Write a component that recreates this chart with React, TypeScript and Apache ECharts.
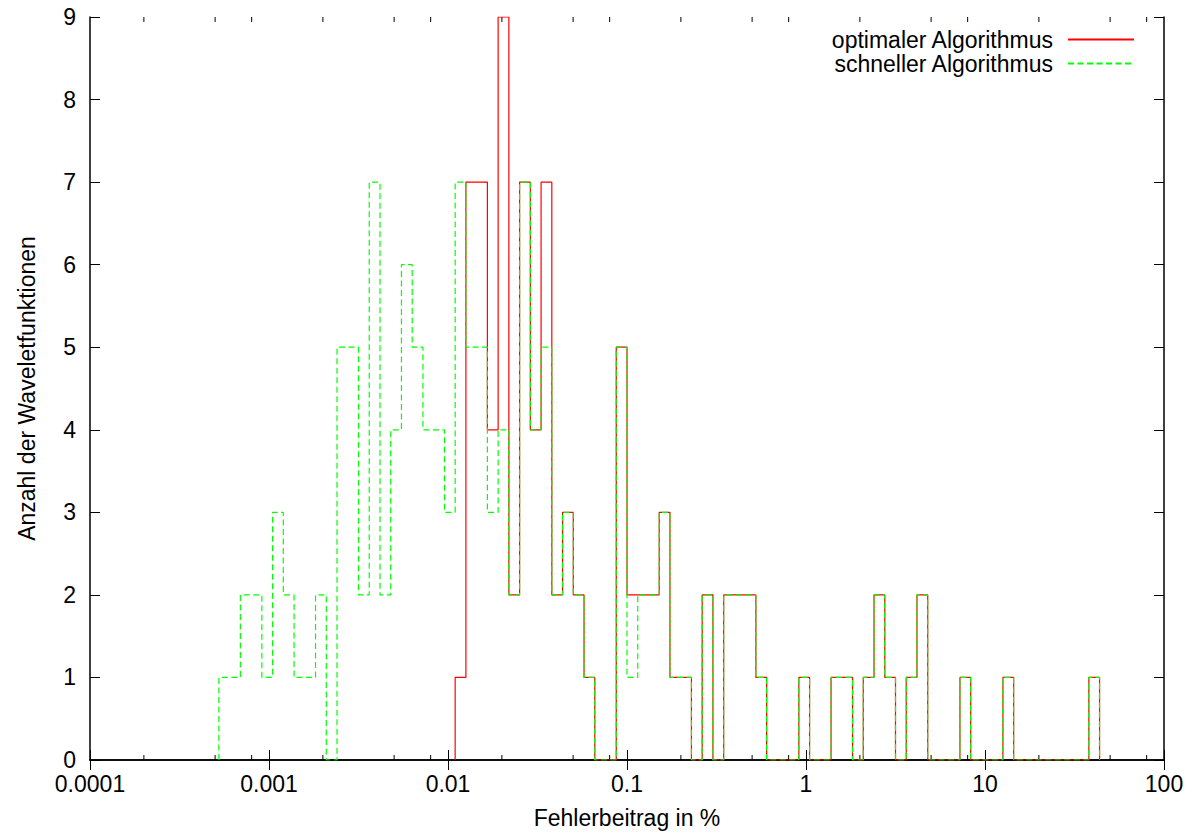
import React, { useEffect, useRef } from "react";
import * as echarts from "echarts";

// Histogram bins: equal width in log10(Fehlerbeitrag), first bin starts at 10^-3.28
const FIRST_BIN_LOG10 = -3.28;
const BIN_WIDTH_LOG10 = 0.06;

// counts per bin (82 bins, from 10^-3.28 up to 10^1.64)
const optimalCounts = [
  0, 0, 0, 0, 0, 0, 0, 0, 0, 0, 0, 0, 0, 0, 0, 0, 0, 0, 0, 0, 0, 0,
  1, 7, 7, 4, 9, 2, 7, 4, 7, 2, 3, 2, 1, 0, 0, 5,
  2, 2, 2, 3, 1, 1, 0, 2, 0, 2, 2, 2, 1, 0, 0, 0,
  1, 0, 0, 1, 1, 0, 1, 2, 1, 0, 1, 2, 0, 0, 0, 1,
  0, 0, 0, 1, 0, 0, 0, 0, 0, 0, 0, 1,
];
const fastCounts = [
  1, 1, 2, 2, 1, 3, 2, 1, 1, 2, 0, 5, 5, 2, 7, 2, 4, 6, 5, 4, 4, 3,
  7, 5, 5, 3, 4, 2, 7, 4, 5, 2, 3, 2, 1, 0, 0, 5,
  1, 2, 2, 3, 1, 1, 0, 2, 0, 2, 2, 2, 1, 0, 0, 0,
  1, 0, 0, 1, 1, 0, 1, 2, 1, 0, 1, 2, 0, 0, 0, 1,
  0, 0, 0, 1, 0, 0, 0, 0, 0, 0, 0, 1,
];

const seriesNames = ["optimaler Algorithmus", "schneller Algorithmus"];
const xTickValues = [0.0001, 0.001, 0.01, 0.1, 1, 10, 100];
const minorTicks = [
  0.0002, 0.0005, 0.0008, 0.002, 0.005, 0.008, 0.02, 0.05, 0.08,
  0.2, 0.5, 0.8, 2, 5, 8, 20, 50, 80,
];
const yMax = 9;

const FONT = "Liberation Sans, Arial, Helvetica, sans-serif";

function edge(i: number): number {
  return Math.pow(10, FIRST_BIN_LOG10 + i * BIN_WIDTH_LOG10);
}

function stepData(counts: number[]): number[][] {
  let first = 0;
  while (first < counts.length && counts[first] === 0) first++;
  let last = counts.length - 1;
  while (last >= 0 && counts[last] === 0) last--;
  const pts: number[][] = [[edge(first), 0]];
  for (let i = first; i <= last; i++) {
    pts.push([edge(i), counts[i]]);
    pts.push([edge(i + 1), counts[i]]);
  }
  pts.push([edge(last + 1), 0]);
  return pts;
}

function fmt(v: number): string {
  return String(parseFloat(Number(v).toPrecision(6)));
}

export default function App() {
  const ref = useRef<HTMLDivElement>(null);
  useEffect(() => {
    if (!ref.current) return;
    const chart = echarts.init(ref.current, null, { renderer: "svg" });
    const axisLine = { show: true, lineStyle: { color: "#000", width: 1.5 } };
    const tick = { show: true, inside: true, length: 10, lineStyle: { color: "#000", width: 1 } };
    chart.setOption({
      animation: false,
      backgroundColor: "#fff",
      textStyle: { fontFamily: FONT },
      grid: { left: 90, right: 33, top: 17, bottom: 76, containLabel: false, outerBoundsMode: "none" },
      legend: {
        data: seriesNames,
        orient: "vertical",
        align: "right",
        right: 62,
        top: 28,
        padding: 0,
        itemWidth: 66,
        itemHeight: 10,
        itemGap: 1,
        itemStyle: { opacity: 0 },
        textStyle: { fontSize: 23, color: "#000", fontFamily: FONT, lineHeight: 22, padding: [0, 10, 0, 0] },
      },
      xAxis: [
        {
          type: "log",
          logBase: 10,
          min: xTickValues[0],
          max: xTickValues[xTickValues.length - 1],
          splitNumber: 6,
          position: "bottom",
          axisLine,
          axisTick: tick,
          splitLine: { show: false },
          axisLabel: { fontSize: 23, color: "#000", fontFamily: FONT, margin: 12, formatter: (v: number) => fmt(v), showMinLabel: true, showMaxLabel: true },
          name: "Fehlerbeitrag in %",
          nameLocation: "middle",
          nameGap: 46,
          nameTextStyle: { fontSize: 23, color: "#000", fontFamily: FONT },
        },
        {
          type: "log",
          logBase: 10,
          min: xTickValues[0],
          max: xTickValues[xTickValues.length - 1],
          splitNumber: 6,
          position: "top",
          axisLine,
          axisTick: tick,
          splitLine: { show: false },
          axisLabel: { show: false },
        },
      ],
      yAxis: [
        {
          type: "value",
          min: 0,
          max: yMax,
          interval: 1,
          position: "left",
          axisLine,
          axisTick: tick,
          splitLine: { show: false },
          axisLabel: { fontSize: 23, color: "#000", fontFamily: FONT, margin: 14 },
          name: "Anzahl der Waveletfunktionen",
          nameLocation: "middle",
          nameGap: 52,
          nameTextStyle: { fontSize: 23, color: "#000", fontFamily: FONT },
        },
        {
          type: "value",
          min: 0,
          max: yMax,
          interval: 1,
          position: "right",
          axisLine,
          axisTick: tick,
          splitLine: { show: false },
          axisLabel: { show: false },
        },
      ],
      series: [
        {
          name: seriesNames[0],
          type: "line",
          xAxisIndex: 0,
          yAxisIndex: 0,
          data: stepData(optimalCounts),
          symbol: "none",
          showSymbol: false,
          color: "#ff0000",
          lineStyle: { color: "#ff0000", width: 1.2 },
        },
        {
          name: seriesNames[1],
          type: "line",
          xAxisIndex: 0,
          yAxisIndex: 0,
          data: stepData(fastCounts),
          symbol: "none",
          showSymbol: false,
          color: "#00ff00",
          lineStyle: { color: "#00ff00", width: 1.2, type: [6, 3.5] },
        },
        {
          type: "custom",
          xAxisIndex: 0,
          yAxisIndex: 0,
          silent: true,
          clip: false,
          data: minorTicks.map((v) => [v, 0]),
          renderItem: (params: any, api: any) => {
            const x = api.value(0);
            const b = api.coord([x, 0]);
            const t = api.coord([x, yMax]);
            return {
              type: "group",
              children: [
                { type: "line", shape: { x1: b[0], y1: b[1], x2: b[0], y2: b[1] - 5 }, style: { stroke: "#000", lineWidth: 1 } },
                { type: "line", shape: { x1: t[0], y1: t[1], x2: t[0], y2: t[1] + 5 }, style: { stroke: "#000", lineWidth: 1 } },
              ],
            };
          },
        },
      ],
    });
    return () => chart.dispose();
  }, []);
  return <div ref={ref} style={{ position: "fixed", left: 0, top: 0, width: 1197, height: 836 }} />;
}
